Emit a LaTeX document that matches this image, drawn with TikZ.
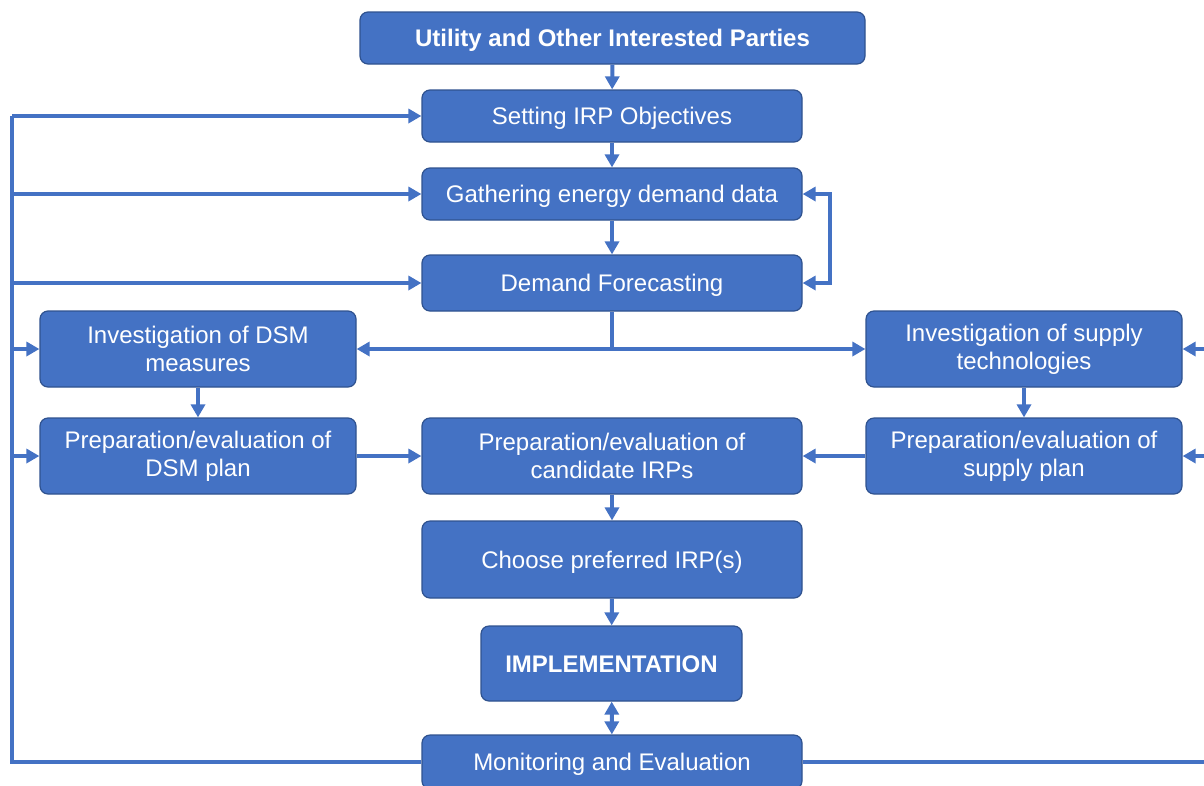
\documentclass[tikz,border=0pt]{standalone}
\usepackage{fontspec}
\setmainfont{Liberation Sans}
\usetikzlibrary{arrows.meta}
\definecolor{boxfill}{HTML}{4472C4}
\definecolor{boxline}{HTML}{2F528F}
\tikzset{
  stepbox/.style={draw=boxline, line width=1.2pt, fill=boxfill, rounded corners=8pt,
    text=white, align=center, inner sep=0pt, font=\fontsize{24}{28}\selectfont},
  boldbox/.style={stepbox, font=\fontsize{24}{28}\selectfont\bfseries},
  oneline/.style={text height=17pt, text depth=0pt},
  wide/.style={minimum width=380pt, minimum height=52pt},
  side/.style={minimum width=316pt, minimum height=76pt},
  conn/.style={draw=boxfill, line width=4pt},
  arr/.style={conn, -{Triangle[length=13pt, width=14pt]}},
  darr/.style={conn, {Triangle[length=13pt, width=14pt]}-{Triangle[length=13pt, width=14pt]}}
}
\begin{document}
\begin{tikzpicture}[x=1pt, y=-1pt]
\useasboundingbox (0,0) rectangle (1204,785);
\clip (0,0) rectangle (1204,785);
% main column
\node[boldbox, oneline, minimum width=505pt, minimum height=52pt] (util) at (612.5,38) {Utility and Other Interested Parties};
\node[stepbox, oneline, wide] (obj) at (612,116) {Setting IRP Objectives};
\node[stepbox, oneline, wide] (gath) at (612,194) {Gathering energy demand data};
\node[stepbox, oneline, wide, minimum height=56pt] (fcst) at (612,283) {Demand Forecasting};
\node[stepbox, wide, minimum height=76pt] (cand) at (612,456) {Preparation/evaluation of\\candidate IRPs};
\node[stepbox, oneline, wide, minimum height=77pt] (pick) at (612,559.5) {Choose preferred IRP(s)};
\node[boldbox, oneline, minimum width=261pt, minimum height=75pt] (impl) at (611.5,663.5) {IMPLEMENTATION};
\node[stepbox, oneline, wide, minimum height=54pt] (mon) at (612,762) {Monitoring and Evaluation};
% side columns
\node[stepbox, side] (dsminv) at (198,349) {Investigation of DSM\\measures};
\node[stepbox, side] (dsmplan) at (198,456) {Preparation/evaluation of\\DSM plan};
\node[stepbox, side] (supinv) at (1024,349) {Investigation of supply\\technologies};
\node[stepbox, side] (supplan) at (1024,456) {Preparation/evaluation of\\supply plan};
% helper points
\coordinate (lt) at (12,116);
\coordinate (rt) at (1216,349);
\coordinate (split) at (fcst.south |- dsminv.east);
% vertical flow
\draw[arr] (util) -- (obj);
\draw[arr] (obj) -- (gath);
\draw[arr] (gath) -- (fcst);
\draw[conn] (fcst.south) -- (split);
\draw[arr] (split) -- (dsminv.east);
\draw[arr] (split) -- (supinv.west);
\draw[arr] (dsminv) -- (dsmplan);
\draw[arr] (supinv) -- (supplan);
\draw[arr] (dsmplan) -- (cand);
\draw[arr] (supplan) -- (cand);
\draw[arr] (cand) -- (pick);
\draw[arr] (pick) -- (impl);
\draw[darr] (impl) -- (mon);
% demand data / forecast loop
\draw[darr] (fcst.east) -- ++(27,0) |- (gath.east);
% feedback from monitoring, left side
\draw[conn, line join=miter] (mon.west) -| (lt);
\draw[arr] (lt) -- (obj.west);
\draw[arr] (gath.west -| lt) -- (gath.west);
\draw[arr] (fcst.west -| lt) -- (fcst.west);
\draw[arr] (dsminv.west -| lt) -- (dsminv.west);
\draw[arr] (dsmplan.west -| lt) -- (dsmplan.west);
% feedback from monitoring, right side
\draw[conn, line join=miter] (mon.east) -| (rt);
\draw[arr] (rt) -- (supinv.east);
\draw[arr] (supplan.east -| rt) -- (supplan.east);
\end{tikzpicture}
\end{document}
